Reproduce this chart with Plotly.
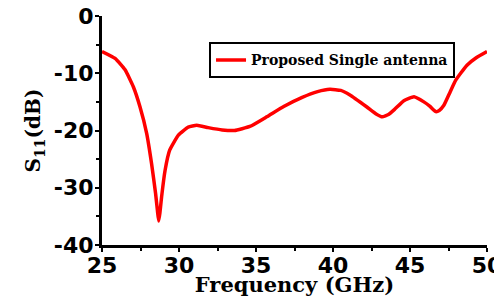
import plotly.graph_objects as go

freq = [25.0, 25.85, 26.5, 27.04, 27.47, 27.9, 28.22, 28.48, 28.6, 28.68, 28.76,
        28.87, 29.1, 29.4, 29.96, 30.6, 31.15, 31.9, 32.8, 33.6, 34.6, 35.7, 36.8, 38.0,
        39.0, 39.8, 40.5, 41.1, 42.2, 42.8, 43.2, 43.6, 44.0, 44.6, 45.26, 45.9, 46.3,
        46.67, 46.9, 47.2, 47.6, 47.97, 48.7, 49.3, 50.0]
s11 = [-6.2, -7.4, -9.4, -12.4, -15.9, -20.5, -25.8, -31.0, -34.0, -35.8, -34.4,
       -31.6, -26.9, -23.4, -20.8, -19.4, -19.1, -19.5, -19.9, -20.0, -19.3, -17.6, -15.8, -14.2,
       -13.2, -12.8, -13.0, -13.8, -15.9, -17.1, -17.6, -17.2, -16.3, -14.8, -14.1, -15.0, -15.8,
       -16.7, -16.5, -15.6, -13.3, -11.2, -8.6, -7.3, -6.2]

x_ticks = [25, 30, 35, 40, 45, 50]
y_ticks = [0, -10, -20, -30, -40]

fig = go.Figure()
fig.add_trace(go.Scatter(x=freq, y=s11, mode="lines", name="Proposed Single antenna",
                         line=dict(color="#ff0000", width=3.5, shape="spline", smoothing=0.4)))

# page body has an 8px margin, so the figure is drawn 8px smaller and offset
fig.update_layout(
    width=494, height=289,
    margin=dict(l=94, r=15, t=8, b=52),
    paper_bgcolor="white", plot_bgcolor="white",
    showlegend=True,
    legend=dict(x=0.278, y=0.885, xanchor="left", yanchor="top",
                bgcolor="white", bordercolor="black", borderwidth=2,
                font=dict(family="DejaVu Serif", size=14, color="black", weight="bold"),
                tracegroupgap=0, itemwidth=30),
    xaxis=dict(range=[25, 50], tickvals=x_ticks, ticktext=[str(v) for v in x_ticks],
               automargin=False, ticklabeloverflow="allow", ticklabelstandoff=-5,
               showline=True, linecolor="black", linewidth=3, mirror=False,
               ticks="outside", ticklen=4, tickwidth=2, tickcolor="black",
               minor=dict(ticks="outside", ticklen=3, tickwidth=2, tickcolor="black", dtick=2.5),
               showgrid=False, zeroline=False,
               tickfont=dict(family="DejaVu Sans", size=22, color="black", weight="bold"),
               title=dict(text="Frequency (GHz)", standoff=1,
                          font=dict(family="DejaVu Serif", size=21, color="black", weight="bold"))),
    yaxis=dict(range=[-40, 0], tickvals=y_ticks, ticktext=[str(v) for v in y_ticks],
               automargin=False, ticklabeloverflow="allow", ticklabelstandoff=-3,
               showline=True, linecolor="black", linewidth=3, mirror=False,
               ticks="outside", ticklen=4, tickwidth=2, tickcolor="black",
               minor=dict(ticks="outside", ticklen=3, tickwidth=2, tickcolor="black", dtick=5),
               showgrid=False, zeroline=False,
               tickfont=dict(family="DejaVu Sans", size=22, color="black", weight="bold"),
               title=dict(text="S<sub>11</sub>(dB)", standoff=8,
                          font=dict(family="DejaVu Serif", size=20, color="black", weight="bold"))),
)
fig.write_html("out.html")
